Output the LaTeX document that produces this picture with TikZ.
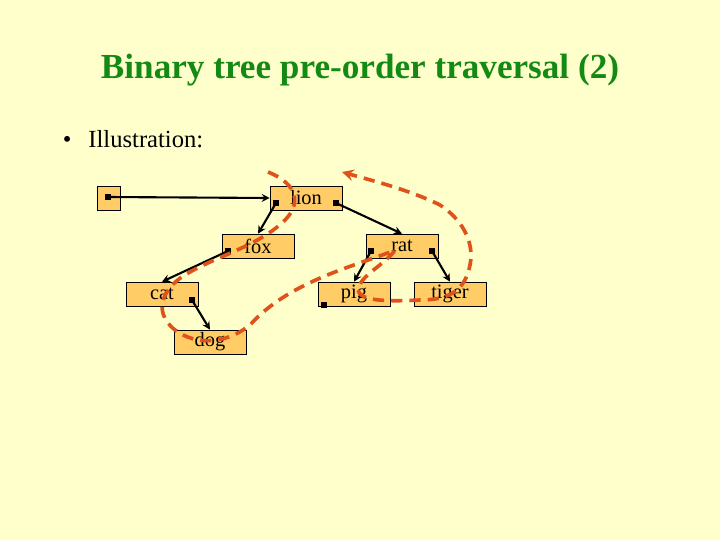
\documentclass[tikz,border=0pt]{standalone}
\usepackage{fontspec}
\setmainfont{Liberation Serif}
\usetikzlibrary{arrows}
\definecolor{paper}{HTML}{FFFFCC}
\definecolor{boxfill}{HTML}{FFCC66}
\definecolor{titlegreen}{HTML}{138A13}
\definecolor{trail}{HTML}{E0521C}
\tikzstyle{tnode} = [rectangle, draw=black, fill=boxfill, minimum width=72*0.025cm, minimum height=24*0.025cm, inner sep=0pt, font=\fontsize{14.5}{14.5}\selectfont]
\tikzstyle{pin} = [rectangle, fill=black, inner sep=0pt, minimum size=4.5pt]
\tikzstyle{arrow} = [line width=1.5pt,->,>=stealth]
\tikzstyle{walk} = [trail, line width=2.6pt, dash pattern=on 8pt off 5pt]

\begin{document}
\begin{tikzpicture}[x=0.025cm, y=-0.025cm]
        \fill[paper] (0,0) rectangle (720,540);

        \node (title) at (360,70) [text=titlegreen, font=\fontsize{25}{25}\selectfont\bfseries] {Binary tree pre-order traversal (2)};
        \node (bullet) at (58,139) [anchor=west, font=\fontsize{17.5}{17.5}\selectfont] {\textbullet\hspace{12pt}Illustration:};

        \node (root) at (108.5,198) [tnode, minimum width=23*0.025cm] {};
        \node (lion) at (306,198) [tnode] {lion};
        \node (fox) at (258,246) [tnode] {fox};
        \node (rat) at (402,246) [tnode] {rat};
        \node (cat) at (162,294) [tnode] {cat};
        \node (pig) at (354,294) [tnode] {pig};
        \node (tiger) at (450,294) [tnode] {tiger};
        \node (dog) at (210,342) [tnode] {dog};

        % Punteros
        \node (rootp) at (108,197) [pin] {};
        \node (lionl) at (276,203) [pin] {};
        \node (lionr) at (336,203) [pin] {};
        \node (foxl) at (228,251) [pin] {};
        \node (ratl) at (371,251) [pin] {};
        \node (ratr) at (432,251) [pin] {};
        \node (catr) at (192,300) [pin] {};
        \node (pigl) at (324,305) [pin] {};

        % Flechas
        \draw [arrow] (rootp.center) -- (lion.west);
        \draw [arrow] (lionl.center) -- (fox.north);
        \draw [arrow] (lionr.center) -- (rat.north);
        \draw [arrow] (foxl.center) -- (cat.north);
        \draw [arrow] (catr.center) -- (dog.north);
        \draw [arrow] (ratl.center) -- (pig.north);
        \draw [arrow] (ratr.center) -- (tiger.north);

        % Recorrido
        \coordinate (start) at (268,172);
        \coordinate (finish) at (342,172);
        \draw [walk, ->, >=stealth] (start) .. controls (300,185) and (300,205) .. (285,220)
            .. controls (260,245) and (220,255) .. (190,272)
            .. controls (165,285) and (150,310) .. (175,330)
            .. controls (195,345) and (225,345) .. (250,325)
            .. controls (290,280) and (360,265) .. (395,250)
            .. controls (385,265) and (360,275) .. (358,290)
            .. controls (360,300) and (380,302) .. (420,300)
            .. controls (450,300) and (465,290) .. (470,265)
            .. controls (475,240) and (460,218) .. (440,205)
            .. controls (410,190) and (370,180) .. (finish);
\end{tikzpicture}
\end{document}
